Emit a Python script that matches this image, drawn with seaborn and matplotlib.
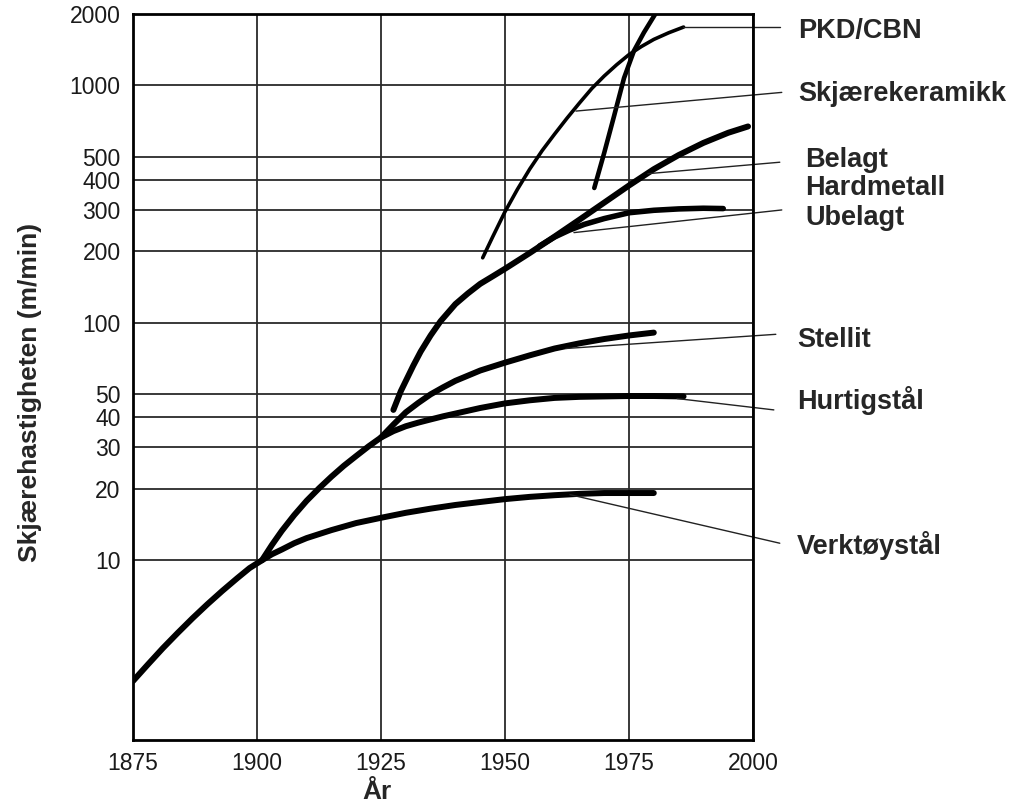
import numpy as np
import pandas as pd
import seaborn as sns
import matplotlib.pyplot as plt

# Cutting speed (m/min) for tool materials

# Verktøystål
verkt_year = [1875, 1878, 1881, 1884, 1887, 1890, 1893, 1896, 1898.5, 1901,
              1903, 1905, 1907.5, 1910, 1915, 1920, 1925, 1930, 1935, 1940,
              1945, 1950, 1955, 1960, 1965, 1970, 1975, 1980]
verkt_val = [3.1, 3.64, 4.26, 4.94, 5.70, 6.53, 7.43, 8.40, 9.27, 10.0,
             10.6, 11.1, 11.8, 12.4, 13.4, 14.35, 15.1, 15.85, 16.5, 17.1,
             17.6, 18.1, 18.5, 18.8, 19.05, 19.2, 19.2, 19.2]

# Hurtigstål
hurtig_year = [1901, 1903, 1905, 1907.5, 1910, 1912.5, 1915, 1917.5, 1920, 1922.5,
               1925, 1927.5, 1930, 1932.5, 1935, 1937.5, 1940, 1945, 1950, 1955,
               1960, 1965, 1970, 1975, 1980, 1986]
hurtig_val = [10.0, 11.6, 13.3, 15.5, 17.8, 20.1, 22.5, 25.0, 27.5, 30.2,
              32.9, 35.0, 36.7, 38.0, 39.2, 40.4, 41.5, 43.8, 45.8, 47.2,
              48.3, 48.8, 49.0, 49.2, 49.2, 49.0]

# Stellit
stellit_year = [1925, 1927.5, 1930, 1932.5, 1935, 1937.5, 1940, 1945, 1950, 1955,
                1960, 1965, 1970, 1975, 1980]
stellit_val = [32.9, 37.3, 42, 46, 50, 53.5, 57, 63, 68, 73,
               78, 82, 85.5, 88.5, 91]

# Belagt hardmetall
belagt_year = [1927.5, 1929, 1931.5, 1933, 1935, 1937, 1940, 1942.5, 1945, 1947.5,
               1950, 1955, 1960, 1965, 1970, 1975, 1980, 1985, 1990, 1995, 1999]
belagt_val = [43, 51.6, 66, 75.7, 88.5, 101.6, 120, 133, 146, 157,
              169, 197, 231, 272, 321, 379, 444, 509, 573, 632, 672]

# Ubelagt hardmetall
ubelagt_year = [1957, 1960, 1963, 1966, 1970, 1975, 1980, 1985, 1990, 1994]
ubelagt_val = [211, 230, 246, 260, 275, 291, 298, 302, 304, 303]

# Skjærekeramikk
keram_year = [1945.5, 1947.5, 1950, 1952.5, 1955, 1957.5, 1960, 1962.5, 1965,
              1967.5, 1970, 1972.5, 1975, 1977.5, 1980, 1983, 1986]
keram_val = [188, 230, 294, 365, 445, 532, 624, 728, 843,
             971, 1096, 1222, 1349, 1459, 1563, 1667, 1762]

# PKD/CBN
pkd_year = [1968, 1970, 1972, 1974, 1976, 1978, 1980.3]
pkd_val = [370, 520, 745, 1075, 1400, 1670, 2000]

series = [
    (verkt_year, verkt_val, 4.3),
    (hurtig_year, hurtig_val, 4.3),
    (stellit_year, stellit_val, 4.3),
    (belagt_year, belagt_val, 4.3),
    (ubelagt_year, ubelagt_val, 4.0),
    (keram_year, keram_val, 2.6),
    (pkd_year, pkd_val, 3.3),
]

# labels: text, point on curve, outer end of leader, text anchor
label_text = ['PKD/CBN', 'Skjærekeramikk', 'Belagt\nHardmetall', 'Ubelagt',
              'Stellit', 'Hurtigstål', 'Verktøystål']
label_curve_pt = [(1985.9, 1767), (1964.3, 780), (1978.8, 425), (1963.9, 240),
                  (1962.3, 78), (1984.7, 48), (1963.1, 18.9)]
label_outer_pt = [(2005.4, 1767), (2005.8, 935), (2005.4, 475), (2005.8, 299),
                  (2004.6, 89.5), (2004.2, 43), (2005.4, 11.8)]
label_pos = [(2009.1, 1702), (2009.1, 925), (2010.5, 424), (2010.5, 277),
             (2008.9, 85), (2008.9, 47.3), (2008.9, 11.5)]

year_ticks = [1875, 1900, 1925, 1950, 1975, 2000]
speed_ticks = [10, 20, 30, 40, 50, 100, 200, 300, 400, 500, 1000, 2000]

sns.set_style('white')
plt.rcParams['font.family'] = ['Liberation Sans', 'DejaVu Sans']

fig = plt.figure(figsize=(10.21, 8.07), dpi=100)
ax = fig.add_axes([133 / 1021, 1 - 740 / 807, 620 / 1021, 726 / 807])

for yrs, vals, lw in series:
    sns.lineplot(x=yrs, y=vals, ax=ax, color='black', linewidth=lw,
                 estimator=None, sort=False, solid_capstyle='round',
                 solid_joinstyle='round')

ax.set_yscale('log')
ax.set_xlim(1875, 2000)
ax.set_ylim(1.75, 2000)
ax.set_xticks(year_ticks)
ax.set_xticklabels([str(t) for t in year_ticks])
ax.set_yticks(speed_ticks)
ax.set_yticklabels([str(t) for t in speed_ticks])
ax.yaxis.set_minor_locator(plt.NullLocator())
ax.tick_params(length=0, labelsize=16.5, pad=9, colors='#1a1a1a')

ax.grid(True, color='#2a2a2a', linewidth=1.3)
for sp in ax.spines.values():
    sp.set_visible(True)
    sp.set_color('black')
    sp.set_linewidth(2)

# leader lines and labels outside the plot
for txt, cp, op, tp in zip(label_text, label_curve_pt, label_outer_pt, label_pos):
    ax.plot([cp[0], op[0]], [cp[1], op[1]], color='#222222', linewidth=1.0,
            clip_on=False)
    ax.text(tp[0], tp[1], txt, fontsize=19.5, fontweight='bold', ha='left',
            va='center', linespacing=1.1, clip_on=False)

ax.set_ylabel('Skjærehastigheten (m/min)', fontsize=19, fontweight='bold')
ax.yaxis.set_label_coords(-0.147, 0.479)
ax.set_xlabel('År', fontsize=19, fontweight='bold')
ax.xaxis.set_label_coords(0.394, -0.055)

plt.savefig('out.png', dpi=100)
